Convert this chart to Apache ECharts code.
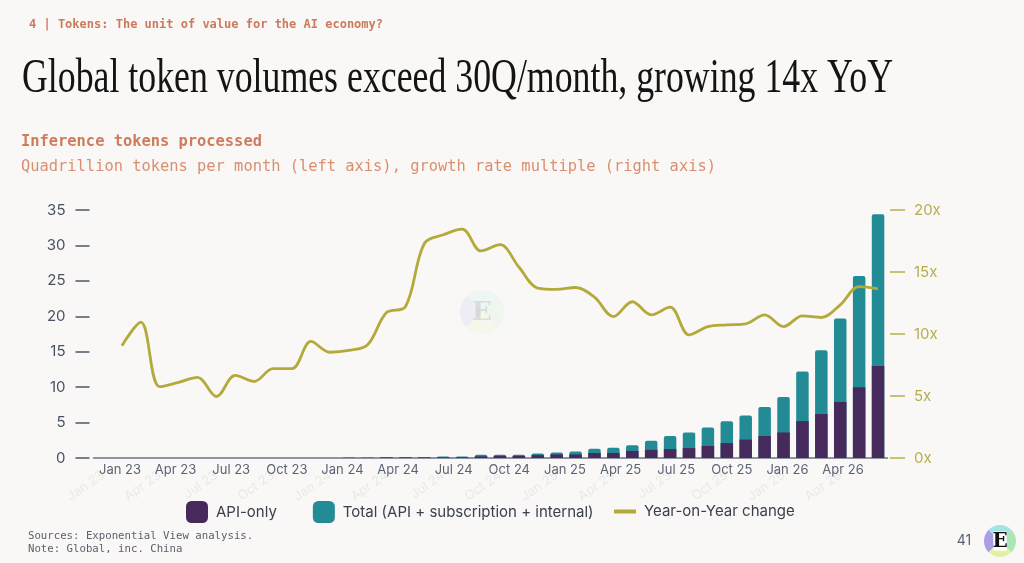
<!DOCTYPE html>
<html lang="en">
<head>
<meta charset="UTF-8">
<title>Global token volumes</title>
<script src="https://cdn.jsdelivr.net/npm/echarts@6/dist/echarts.min.js"></script>
<style>
  html, body { margin: 0; padding: 0; background: #f9f8f6; }
  #chart { width: 1024px; height: 563px; }
</style>
</head>
<body>
<div id="chart"></div>
<script>
// months on the axis
var months = ['Jan 23','Feb 23','Mar 23','Apr 23','May 23','Jun 23','Jul 23','Aug 23','Sep 23','Oct 23','Nov 23','Dec 23',
              'Jan 24','Feb 24','Mar 24','Apr 24','May 24','Jun 24','Jul 24','Aug 24','Sep 24','Oct 24','Nov 24','Dec 24',
              'Jan 25','Feb 25','Mar 25','Apr 25','May 25','Jun 25','Jul 25','Aug 25','Sep 25','Oct 25','Nov 25','Dec 25',
              'Jan 26','Feb 26','Mar 26','Apr 26','May 26','Jun 26'];

// quadrillion tokens / month
var apiOnly = [null,null,null,null,null,null,null,null,null,null,null,null,
               null,0.02,0.02,0.09,0.09,0.09,0.1,0.1,0.23,0.3,0.3,0.4,
               0.5,0.5,0.7,0.7,1.0,1.15,1.25,1.4,1.7,2.1,2.6,3.1,
               3.6,5.2,6.2,7.9,10.0,13.0];
var total = [null,null,null,null,null,null,null,null,null,null,null,null,
             null,0.08,0.08,0.1,0.1,0.1,0.22,0.22,0.45,0.45,0.45,0.62,
             0.78,0.92,1.3,1.45,1.8,2.45,3.1,3.6,4.3,5.2,6.0,7.2,
             8.6,12.2,15.2,19.7,25.7,34.4];

// year-on-year multiple (right axis)
var yoy = [null,9.05,10.95,5.75,6.1,6.5,4.96,6.66,6.17,7.2,7.2,9.4,
           8.53,8.67,9.13,11.73,12.2,17.3,18.0,18.45,16.7,17.2,15.4,13.7,
           13.6,13.75,12.97,11.4,12.6,11.55,12.16,9.93,10.6,10.74,10.82,11.55,
           10.6,11.46,11.33,12.35,13.82,13.64];

var leftTicks = [0, 35, 5];   // min, max, interval
var rightTicks = [0, 20, 5];

var titleText = 'Global token volumes exceed 30Q/month, growing 14x YoY';

// squeeze the serif title to the width of the original
var cv = document.createElement('canvas').getContext('2d');
cv.font = '49px "Liberation Serif"';
var titleScale = 871 / cv.measureText(titleText).width;

var myChart = echarts.init(document.getElementById('chart'));

function logo(cx, cy, r, op, fs) {
  var parts = [
    { a0: Math.PI * 0.75, a1: Math.PI * 1.25, c: '#a99fe4' },
    { a0: -Math.PI * 0.75, a1: -Math.PI * 0.25, c: '#a3e4e2' },
    { a0: -Math.PI * 0.25, a1: Math.PI * 0.25, c: '#aae6b6' },
    { a0: Math.PI * 0.25, a1: Math.PI * 0.75, c: '#e4f0a4' }
  ];
  var els = parts.map(function (p) {
    return { type: 'sector', shape: { cx: cx, cy: cy, r: r, startAngle: p.a0, endAngle: p.a1 },
             style: { fill: p.c, opacity: op }, silent: true };
  });
  els.push({ type: 'rect', shape: { x: cx - r * 0.42, y: cy - r * 0.6, width: r * 0.84, height: r * 1.2 },
             style: { fill: '#ffffff', opacity: op }, silent: true });
  els.push({ type: 'text', x: cx, y: cy + 1, silent: true,
             style: { text: 'E', fontFamily: 'DejaVu Serif', fontWeight: 'bold', fontSize: fs,
                      fill: op < 1 ? '#9a9a9a' : '#111111', opacity: op < 1 ? op * 2.2 : 1,
                      align: 'center', verticalAlign: 'middle' } });
  return els;
}

var graphics = [
  { type: 'text', left: 29, top: 19,
    style: { text: '4 | Tokens: The unit of value for the AI economy?', fontFamily: 'DejaVu Sans Mono',
             fontWeight: 'bold', fontSize: 12, fill: '#cc7a5c' } },
  { type: 'text', x: 22, y: 79, scaleX: titleScale,
    style: { text: titleText, fontFamily: 'Liberation Serif', fontSize: 49, fill: '#141414',
             verticalAlign: 'middle' } },
  { type: 'text', left: 21, top: 134,
    style: { text: 'Inference tokens processed', fontFamily: 'DejaVu Sans Mono', fontWeight: 'bold',
             fontSize: 15.4, fill: '#cf7c5c' } },
  { type: 'text', left: 21, top: 159,
    style: { text: 'Quadrillion tokens per month (left axis), growth rate multiple (right axis)',
             fontFamily: 'DejaVu Sans Mono', fontSize: 15.4, fill: '#d98f6e' } },
  { type: 'text', left: 28, top: 531,
    style: { text: 'Sources: Exponential View analysis.', fontFamily: 'DejaVu Sans Mono', fontSize: 10.7, fill: '#5a5f6a' } },
  { type: 'text', left: 28, top: 544,
    style: { text: 'Note: Global, inc. China', fontFamily: 'DejaVu Sans Mono', fontSize: 10.7, fill: '#5a5f6a' } },
  { type: 'text', x: 964, y: 541,
    style: { text: '41', fontFamily: 'Inter', fontSize: 14, fill: '#5a6170', align: 'center', verticalAlign: 'middle' } }
].concat(logo(1000, 541, 16, 1, 20)).concat(logo(482, 312, 22, 0.13, 26));

var option = {
  backgroundColor: '#f9f8f6',
  animation: false,
  graphic: graphics,
  grid: [
    { left: 93.5, right: 136.5, top: 210, bottom: 105 },
    { left: 110.7, right: 134.6, top: 210, bottom: 105 }
  ],
  legend: [
    { data: ['API-only', 'Total (API + subscription + internal)'], left: 181, top: 496,
      itemWidth: 22, itemHeight: 22, itemGap: 36, icon: 'roundRect',
      textStyle: { fontFamily: 'Inter', fontSize: 15, color: '#3b404c', padding: [0, 0, 0, 3] } },
    { data: ['Year-on-Year change'], left: 609, top: 499,
      itemWidth: 22, itemHeight: 4, icon: 'rect',
      textStyle: { fontFamily: 'Inter', fontSize: 15, color: '#3b404c', padding: [0, 0, 0, 3] } }
  ],
  xAxis: [
    { type: 'category', gridIndex: 0, data: months, boundaryGap: true,
      axisLine: { lineStyle: { color: '#6b7386', width: 1.5 } },
      axisTick: { show: false },
      axisLabel: { interval: 2, rotate: 35, margin: 16, color: '#ebe9e5', fontFamily: 'Inter', fontSize: 13 } },
    { type: 'category', gridIndex: 1, data: months, boundaryGap: true,
      axisLine: { show: false }, axisTick: { show: false },
      axisLabel: { interval: 2, margin: 6, color: '#5b6474', fontFamily: 'Inter', fontSize: 13 } }
  ],
  yAxis: [
    { type: 'value', gridIndex: 0, position: 'left', offset: 4,
      min: leftTicks[0], max: leftTicks[1], interval: leftTicks[2],
      splitLine: { show: false }, axisLine: { show: false },
      axisTick: { show: true, length: 14, lineStyle: { color: '#4d5566', width: 1.5 } },
      axisLabel: { margin: 24, color: '#4a5262', fontFamily: 'Inter', fontSize: 15 } },
    { type: 'value', gridIndex: 0, position: 'right', offset: 2.5,
      min: rightTicks[0], max: rightTicks[1], interval: rightTicks[2],
      splitLine: { show: false }, axisLine: { show: false },
      axisTick: { show: true, length: 15, lineStyle: { color: '#b7ae45', width: 1.5 } },
      axisLabel: { margin: 24, color: '#b6ae4e', fontFamily: 'Inter', fontSize: 15, formatter: '{value}x' } },
    { type: 'value', gridIndex: 1, show: false, min: 0, max: 35 }
  ],
  series: [
    { name: 'Total (API + subscription + internal)', type: 'bar', xAxisIndex: 0, yAxisIndex: 0,
      data: total, barWidth: 12.5, barGap: '-100%',
      itemStyle: { color: '#228b96', borderRadius: [2, 2, 0, 0] } },
    { name: 'API-only', type: 'bar', xAxisIndex: 0, yAxisIndex: 0,
      data: apiOnly, barWidth: 12.5, barGap: '-100%',
      itemStyle: { color: '#472a5c' } },
    { name: 'Year-on-Year change', type: 'line', xAxisIndex: 0, yAxisIndex: 1,
      data: yoy, smooth: 0.35, showSymbol: false, symbol: 'none',
      lineStyle: { color: '#b4aa3c', width: 2.8 },
      itemStyle: { color: '#b4aa3c' } }
  ]
};

myChart.setOption(option);
</script>
</body>
</html>
